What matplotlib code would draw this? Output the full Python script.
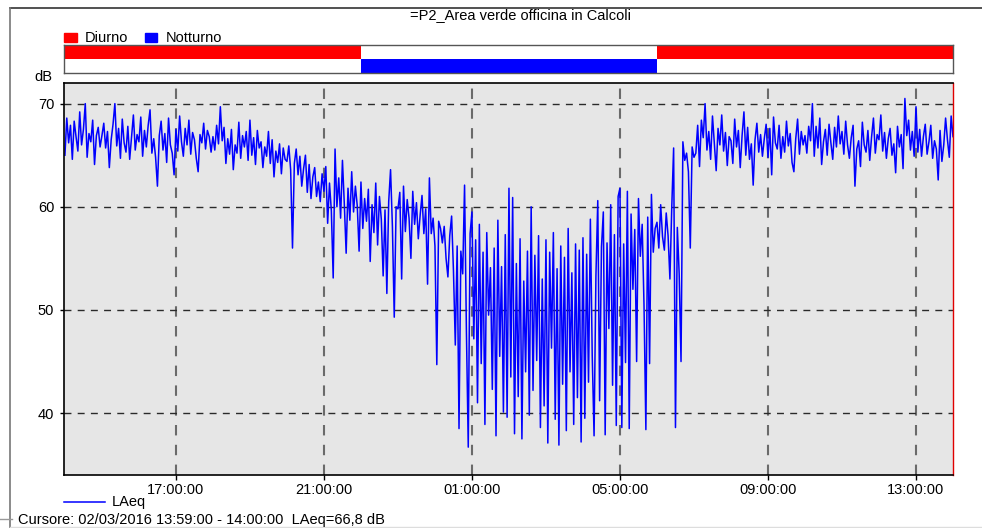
import datetime as dt
import matplotlib
matplotlib.use("Agg")
import matplotlib.pyplot as plt
import matplotlib.dates as mdates
from matplotlib.lines import Line2D
from matplotlib.patches import Rectangle

plt.rcParams['font.family'] = ['Liberation Sans', 'DejaVu Sans']

TITLE = "=P2_Area verde officina in Calcoli"
CURSOR_TXT = "Cursore: 02/03/2016 13:59:00 - 14:00:00  LAeq=66,8 dB"

START = dt.datetime(2016, 3, 1, 14, 0)
STEP_MIN = 3

# LAeq (dB), un blocco per ora (20 valori)
laeq_h14 = [65.0, 68.6, 66.2, 67.9, 64.6, 68.3, 66.8, 65.4, 69.2, 66.0, 67.5, 70.0, 64.8, 67.1, 66.3, 68.4, 64.1, 66.9, 67.7, 65.8]
laeq_h15 = [66.9, 68.1, 65.7, 67.3, 63.8, 66.5, 68.0, 70.0, 65.9, 67.6, 64.7, 68.5, 66.2, 65.3, 67.8, 64.6, 66.7, 68.9, 65.5, 67.0]
laeq_h16 = [66.3, 68.7, 64.9, 67.4, 65.8, 67.9, 69.4, 65.2, 66.6, 64.8, 62.0, 66.9, 68.3, 65.5, 67.1, 64.3, 68.6, 66.0, 65.2, 63.1]
laeq_h17 = [67.5, 65.4, 68.8, 66.3, 64.9, 67.6, 66.0, 68.4, 65.1, 67.2, 66.5, 64.7, 63.4, 67.0, 66.2, 68.1, 65.6, 67.4, 66.8, 65.3]
laeq_h18 = [66.8, 65.5, 67.9, 66.1, 69.7, 66.4, 67.7, 64.2, 66.6, 65.1, 67.5, 63.6, 66.0, 65.2, 68.2, 64.7, 66.9, 65.8, 67.3, 64.5]
laeq_h19 = [68.4, 65.0, 66.7, 64.1, 67.4, 65.7, 66.3, 63.8, 65.8, 64.9, 67.3, 64.2, 66.5, 62.9, 65.4, 64.3, 66.1, 63.2, 65.7, 64.6]
laeq_h20 = [64.4, 65.9, 63.6, 56.0, 64.2, 65.6, 63.1, 64.9, 62.0, 63.7, 65.0, 61.4, 64.1, 60.8, 62.9, 63.8, 61.0, 62.4, 60.5, 63.2]
laeq_h21 = [61.5, 63.9, 58.4, 62.3, 59.6, 53.1, 65.6, 60.0, 62.8, 58.9, 64.5, 60.3, 55.5, 61.8, 58.7, 63.4, 59.5, 62.0, 60.1, 55.7]
laeq_h22 = [62.4, 57.9, 60.8, 58.6, 61.7, 54.7, 60.2, 57.5, 62.3, 56.3, 61.0, 58.8, 53.3, 59.7, 51.6, 60.5, 63.6, 58.1, 49.3, 60.0]
laeq_h23 = [59.8, 61.4, 53.0, 62.0, 57.6, 60.7, 58.9, 55.0, 61.5, 58.3, 60.4, 56.9, 59.2, 61.1, 57.4, 59.8, 52.5, 62.8, 57.4, 58.9]
laeq_h00 = [56.2, 44.7, 58.6, 57.9, 56.5, 58.1, 55.0, 53.2, 57.2, 59.1, 53.8, 46.6, 56.2, 38.5, 55.7, 53.5, 62.1, 48.0, 36.7, 57.4]
laeq_h01 = [59.5, 47.2, 56.8, 41.0, 58.3, 44.8, 55.6, 38.9, 57.5, 49.5, 54.1, 42.3, 56.0, 37.8, 58.7, 45.5, 54.2, 40.1, 57.3, 39.6]
laeq_h02 = [61.8, 43.5, 60.9, 38.0, 54.5, 41.6, 56.9, 37.5, 52.8, 44.0, 55.7, 39.8, 60.0, 42.2, 55.3, 45.1, 57.2, 38.6, 53.0, 40.7]
laeq_h03 = [56.8, 37.1, 55.6, 46.3, 57.5, 39.4, 54.0, 36.9, 56.2, 42.8, 55.1, 38.3, 57.9, 44.0, 53.6, 38.9, 56.4, 41.5, 55.8, 37.2]
laeq_h04 = [57.0, 39.5, 55.4, 43.0, 58.8, 45.6, 37.8, 53.3, 60.6, 41.2, 56.1, 59.5, 37.9, 56.5, 48.2, 60.2, 42.7, 57.3, 38.8, 61.0]
laeq_h05 = [61.8, 38.6, 56.4, 44.9, 61.5, 38.5, 59.3, 52.0, 57.8, 45.0, 60.8, 55.2, 58.3, 50.4, 38.4, 59.0, 44.8, 61.2, 55.6, 57.9]
laeq_h06 = [58.5, 56.0, 60.2, 57.1, 55.8, 59.4, 57.2, 53.0, 60.0, 65.7, 38.6, 58.0, 53.5, 45.0, 66.3, 64.5, 65.2, 63.4, 56.0, 65.8]
laeq_h07 = [64.8, 65.2, 67.9, 63.9, 68.4, 66.7, 70.0, 65.5, 67.3, 64.6, 68.8, 66.1, 63.5, 67.6, 66.0, 68.9, 65.4, 67.2, 64.0, 66.8]
laeq_h08 = [66.4, 64.2, 68.5, 65.8, 67.4, 63.8, 66.9, 69.2, 65.0, 67.7, 64.6, 66.1, 62.1, 66.5, 68.1, 65.3, 67.0, 64.9, 66.6, 68.0]
laeq_h09 = [64.8, 67.6, 63.1, 68.7, 66.2, 65.6, 67.9, 64.7, 66.8, 65.3, 68.3, 65.9, 67.1, 64.3, 63.4, 66.6, 68.5, 65.1, 67.3, 66.0]
laeq_h10 = [66.9, 65.2, 67.8, 66.4, 70.0, 64.9, 67.8, 65.7, 68.6, 64.1, 66.3, 67.5, 65.0, 68.0, 66.2, 64.6, 67.7, 65.8, 68.8, 66.1]
laeq_h11 = [67.3, 65.1, 68.3, 66.0, 64.7, 66.7, 67.9, 62.0, 65.6, 66.4, 63.9, 68.2, 66.0, 65.3, 67.4, 64.5, 66.8, 68.6, 65.2, 67.0]
laeq_h12 = [66.5, 68.9, 65.4, 67.2, 64.7, 66.6, 67.6, 65.0, 66.1, 63.3, 67.8, 65.8, 67.0, 63.7, 70.5, 66.9, 68.4, 65.5, 67.3, 64.9]
laeq_h13 = [69.7, 65.3, 67.5, 64.9, 66.8, 68.0, 65.1, 66.3, 67.9, 64.7, 66.4, 65.6, 62.6, 67.4, 64.4, 66.0, 68.6, 66.5, 64.8, 68.8]
laeq_end = [66.8]

laeq = (laeq_h14 + laeq_h15 + laeq_h16 + laeq_h17 + laeq_h18 + laeq_h19 + laeq_h20
        + laeq_h21 + laeq_h22 + laeq_h23 + laeq_h00 + laeq_h01 + laeq_h02 + laeq_h03
        + laeq_h04 + laeq_h05 + laeq_h06 + laeq_h07 + laeq_h08 + laeq_h09 + laeq_h10
        + laeq_h11 + laeq_h12 + laeq_h13 + laeq_end)
times = [START + dt.timedelta(minutes=STEP_MIN * i) for i in range(len(laeq))]

X_LEFT = dt.datetime(2016, 3, 1, 13, 58, 30)
X_RIGHT = dt.datetime(2016, 3, 2, 14, 0)

# periodi di riferimento
diurno = [(X_LEFT, dt.datetime(2016, 3, 1, 22, 0)), (dt.datetime(2016, 3, 2, 6, 0), X_RIGHT)]
notturno = [(dt.datetime(2016, 3, 1, 22, 0), dt.datetime(2016, 3, 2, 6, 0))]

y_ticks = [40, 50, 60, 70]

W, H = 982, 528
fig = plt.figure(figsize=(W / 100, H / 100), dpi=100)

def fx(px):
    return px / W

def fy(py):
    return 1 - py / H

# grafico principale
ax = fig.add_axes([fx(64), fy(475), fx(953 - 64), (475 - 83) / H])
ax.set_facecolor('#e6e6e6')
ax.plot(times, laeq, color='#0000ff', lw=1.1)
ax.set_xlim(X_LEFT, X_RIGHT)
ax.set_ylim(34, 72)
ax.set_yticks(y_ticks)
ax.xaxis.set_major_locator(mdates.HourLocator(byhour=[1, 5, 9, 13, 17, 21]))
ax.xaxis.set_major_formatter(mdates.DateFormatter('%H:%M:%S'))
ax.tick_params(direction='out', length=3.5, width=1, labelsize=10.5, colors='black', pad=2.5)
ax.tick_params(axis='y', length=3, pad=4)
ax.xaxis.grid(True, color='#6a6a6a', linestyle=(0, (5, 4.5)), lw=1.5)
ax.yaxis.grid(True, color='#2a2a2a', linestyle=(0, (5, 4.5)), lw=1.0)
ax.set_axisbelow(True)
for s in ['left', 'bottom', 'top']:
    ax.spines[s].set_color('black')
    ax.spines[s].set_linewidth(1.2)
ax.spines['right'].set_color('#e00000')
ax.spines['right'].set_linewidth(1.0)

# barra periodi
axp = fig.add_axes([fx(64), fy(73), fx(953 - 64), (73 - 45) / H])
axp.set_xlim(X_LEFT, X_RIGHT)
axp.set_ylim(0, 2)
for a, b in diurno:
    axp.axvspan(a, b, ymin=0.5, ymax=1.0, color='#ff0000', lw=0)
for a, b in notturno:
    axp.axvspan(a, b, ymin=0.0, ymax=0.5, color='#0000ff', lw=0)
axp.set_xticks([])
axp.set_yticks([])
for s in axp.spines.values():
    s.set_color('#555555')
    s.set_linewidth(1.0)

# testi
fig.text(fx(520), fy(15), TITLE, ha='center', va='center', fontsize=10.5)
fig.text(fx(43), fy(77), "dB", ha='center', va='center', fontsize=10.5)
fig.patches.append(Rectangle((fx(64), fy(42)), fx(13), 9 / H, color='#ff0000',
                             transform=fig.transFigure, figure=fig))
fig.text(fx(85), fy(38), "Diurno", ha='left', va='center', fontsize=10.5)
fig.patches.append(Rectangle((fx(145), fy(42)), fx(12), 9 / H, color='#0000ff',
                             transform=fig.transFigure, figure=fig))
fig.text(fx(166), fy(38), "Notturno", ha='left', va='center', fontsize=10.5)

# legenda LAeq
fig.add_artist(Line2D([fx(64), fx(105)], [fy(502), fy(502)], color='#0000ff', lw=1.1))
fig.text(fx(112), fy(502), "LAeq", ha='left', va='center', fontsize=10.5)
fig.text(fx(18), fy(520), CURSOR_TXT, ha='left', va='center', fontsize=10.5)

# cornice esterna
fig.add_artist(Line2D([fx(10), fx(982)], [fy(8), fy(8)], color='#333333', lw=1.2))
fig.add_artist(Line2D([fx(10), fx(10)], [fy(8), fy(528)], color='#777777', lw=1.2))
fig.add_artist(Line2D([fx(0), fx(12)], [fy(519), fy(519)], color='#999999', lw=1.0))
fig.add_artist(Line2D([fx(10), fx(982)], [fy(527), fy(527)], color='#dddddd', lw=1.0))

fig.savefig("out.png", dpi=100)
